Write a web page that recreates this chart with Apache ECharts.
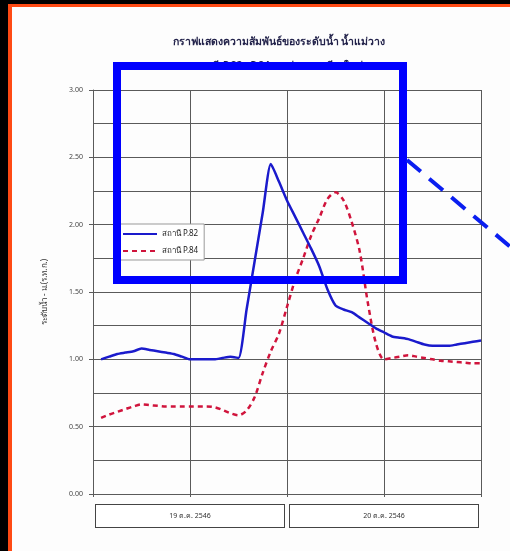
<!DOCTYPE html>
<html>
<head>
<meta charset="utf-8">
<script src="https://cdn.jsdelivr.net/npm/echarts@6/dist/echarts.min.js"></script>
<style>
  html, body { margin: 0; padding: 0; background: #000; }
  #chart { width: 510px; height: 551px; }
</style>
</head>
<body>
<div id="chart"></div>
<script>
// Hourly water levels (m), 01:00 on 19 Oct to 24:00 on 20 Oct 2546
const hours = [1,2,3,4,5,6,7,8,9,10,11,12,13,14,15,16,17,18,19,20,21,22,23,24,
               25,26,27,28,29,30,31,32,33,34,35,36,37,38,39,40,41,42,43,44,45,46,47,48];
const stationP82 = [1.00,1.02,1.04,1.05,1.06,1.08,1.07,1.06,1.05,1.04,1.02,1.00,
                    1.00,1.00,1.00,1.01,1.02,1.01,1.37,1.73,2.09,2.45,2.32,2.18,
                    2.06,1.94,1.82,1.69,1.52,1.40,1.37,1.35,1.31,1.27,1.23,1.20,
                    1.17,1.16,1.15,1.13,1.11,1.10,1.10,1.10,1.11,1.12,1.13,1.14];
const stationP84 = [0.565,0.59,0.61,0.63,0.65,0.665,0.66,0.655,0.65,0.65,0.65,0.65,
                    0.65,0.65,0.645,0.625,0.60,0.585,0.62,0.72,0.90,1.06,1.19,1.39,
                    1.59,1.75,1.92,2.05,2.19,2.24,2.18,2.02,1.80,1.42,1.12,1.00,
                    1.01,1.02,1.03,1.02,1.01,1.00,0.99,0.985,0.98,0.975,0.97,0.97];
const seriesNames = ['สถานี P.82', 'สถานี P.84'];
const dayLabels = ['19 ต.ค. 2546', '20 ต.ค. 2546'];
const titleLines = ['กราฟแสดงความสัมพันธ์ของระดับน้ำ น้ำแม่วาง', 'สถานี P.82 - P.84 อ.แม่วาง จ.เชียงใหม่'];
const yAxisName = 'ระดับน้ำ - ม.(ร.ท.ก.)';

const FONT = '"Noto Sans", "DejaVu Sans", sans-serif';
const gridColor = '#5a5a5a';

const chart = echarts.init(document.getElementById('chart'), null, { renderer: 'canvas' });

chart.setOption({
  backgroundColor: '#fdfdfd',
  animation: false,
  textStyle: { fontFamily: FONT },
  title: {
    text: titleLines[0],
    subtext: titleLines[1],
    left: 274,
    top: 32,
    textAlign: 'center',
    itemGap: 13,
    textStyle: { fontSize: 10.5, fontWeight: 'bold', color: '#22224a', fontFamily: FONT },
    subtextStyle: { fontSize: 10, fontWeight: 'bold', color: '#22224a', fontFamily: FONT }
  },
  legend: {
    orient: 'vertical',
    left: 120,
    top: 224,
    itemWidth: 34,
    itemHeight: 10,
    itemGap: 9,
    padding: [6, 6, 5, 2],
    backgroundColor: '#ffffff',
    borderColor: '#999',
    borderWidth: 1,
    itemStyle: { opacity: 0 },
    textStyle: { fontSize: 8, color: '#222', fontFamily: FONT },
    data: seriesNames
  },
  grid: { left: 93, top: 90, width: 388, height: 404, containLabel: false },
  xAxis: [
    {
      type: 'value',
      min: 0,
      max: 48,
      interval: 12,
      axisLine: { show: true, lineStyle: { color: gridColor, width: 1 } },
      axisTick: { show: true, length: 3, lineStyle: { color: gridColor } },
      axisLabel: { show: false },
      splitLine: { show: true, lineStyle: { color: gridColor, width: 1 } }
    },
    {
      type: 'category',
      position: 'bottom',
      data: dayLabels,
      boundaryGap: true,
      axisLine: { show: false },
      axisTick: { show: false },
      splitLine: { show: false },
      axisLabel: {
        show: true,
        interval: 0,
        margin: 11,
        fontSize: 7,
        color: '#333',
        width: 188,
        height: 22,
        lineHeight: 22,
        align: 'center',
        verticalAlign: 'top',
        borderColor: '#444',
        borderWidth: 1,
        backgroundColor: '#fff'
      }
    }
  ],
  yAxis: {
    type: 'value',
    min: 0,
    max: 3,
    interval: 0.5,
    name: yAxisName,
    nameLocation: 'middle',
    nameGap: 44,
    nameRotate: 90,
    nameTextStyle: { fontSize: 8, color: '#333', fontFamily: FONT },
    axisLine: { show: true, lineStyle: { color: gridColor, width: 1 } },
    axisTick: { show: true, length: 4, lineStyle: { color: gridColor } },
    axisLabel: { fontSize: 7, color: '#444', margin: 10, formatter: v => v.toFixed(2) },
    splitLine: { show: true, lineStyle: { color: gridColor, width: 1 } },
    minorTick: { show: false, splitNumber: 2 },
    minorSplitLine: { show: true, lineStyle: { color: gridColor, width: 1 } }
  },
  series: [
    {
      name: seriesNames[0],
      type: 'line',
      xAxisIndex: 0,
      data: hours.map((h, i) => [h, stationP82[i]]),
      symbol: 'none',
      smooth: 0.2,
      lineStyle: { color: '#1a1acc', width: 2.5 },
      itemStyle: { color: '#1a1acc' },
      z: 3
    },
    {
      name: seriesNames[1],
      type: 'line',
      xAxisIndex: 0,
      data: hours.map((h, i) => [h, stationP84[i]]),
      symbol: 'none',
      smooth: 0.3,
      lineStyle: { color: '#d0143c', width: 2.5, type: [5, 4] },
      itemStyle: { color: '#d0143c' },
      z: 2
    }
  ],
  graphic: [
    // dark slide margin and orange rule along top and left edges
    { type: 'rect', shape: { x: 0, y: 0, width: 8, height: 551 }, style: { fill: '#000' }, z: 50 },
    { type: 'rect', shape: { x: 0, y: 0, width: 510, height: 4 }, style: { fill: '#000' }, z: 50 },
    { type: 'rect', shape: { x: 8, y: 4, width: 4, height: 547 }, style: { fill: '#ff4a14' }, z: 50 },
    { type: 'rect', shape: { x: 8, y: 4, width: 502, height: 3 }, style: { fill: '#ff4a14' }, z: 50 },
    // highlight frame and pointer
    {
      type: 'rect',
      shape: { x: 117, y: 66, width: 286, height: 214 },
      style: { fill: null, stroke: '#0000ff', lineWidth: 8 },
      z: 100
    },
    {
      type: 'line',
      shape: { x1: 407, y1: 160, x2: 520, y2: 255 },
      style: { stroke: '#0a1ef0', lineWidth: 4, lineDash: [18, 11] },
      z: 100
    }
  ]
});
</script>
</body>
</html>
